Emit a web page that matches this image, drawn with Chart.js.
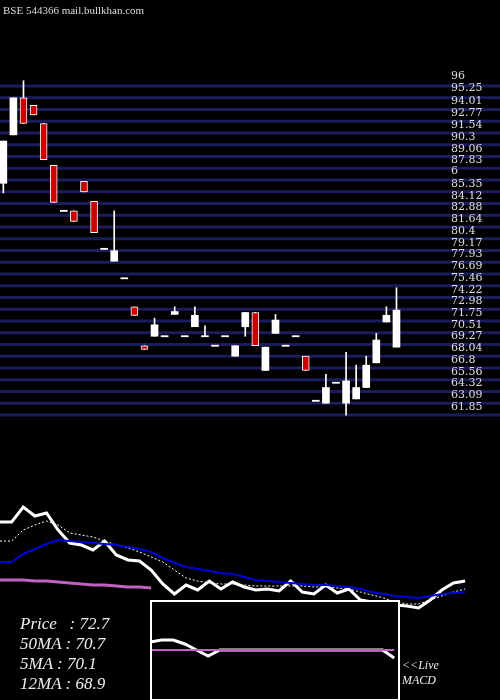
<!DOCTYPE html>
<html><head><script src="https://cdn.jsdelivr.net/npm/chart.js@4"></script>
<style>body{margin:0;background:#000;width:500px;height:700px;overflow:hidden;position:relative;font-family:'DejaVu Serif',serif}
canvas{position:absolute}
.t{position:absolute;color:#eee;font-family:'Liberation Serif',serif;font-style:italic}
</style></head><body>
<canvas id="c1" style="left:0px;top:0px" width="500" height="420"></canvas>
<canvas id="c2" style="left:0px;top:430px" width="500" height="270"></canvas>
<canvas id="c3" style="top:600px;left:150px" width="250" height="100"></canvas>
<div class="t" style="left:3px;top:4px;font-style:normal;font-size:11px;color:#ddd">BSE 544366 mail.bullkhan.com</div>
<div class="t" style="left:20px;top:614px;font-size:17px;line-height:20px">Price &nbsp;&nbsp;: 72.7<br>50MA : 70.7<br>5MA : 70.1<br>12MA : 68.9</div>
<div class="t" style="left:402px;top:658px;font-size:12px;line-height:15px">&lt;&lt;Live<br>MACD</div>
<script>
const opens =[85.0,90.1,94.0,93.2,91.3,86.9,82.1,82.1,85.2,83.1,78.1,76.8,75.0,72.0,67.9,68.9,68.9,71.2,68.9,69.9,68.9,67.9,68.9,66.8,69.9,71.4,65.3,69.2,67.9,68.9,66.8,62.1,61.85,64.0,61.85,62.3,63.5,66.1,70.4,67.75];
const closes=[89.45,94.0,91.3,92.2,87.5,83.0,82.1,81.0,84.1,79.8,78.1,77.9,75.0,71.1,67.5,70.1,68.9,71.5,68.9,71.1,68.9,67.9,68.9,67.9,71.4,67.9,67.75,70.6,67.9,68.9,65.3,62.1,63.5,64.0,64.2,63.5,65.85,68.5,71.1,71.65];
const highs =[89.45,94.0,95.8,93.2,91.3,86.9,82.1,82.1,85.2,83.1,78.1,82.1,75.0,72.0,67.9,70.8,68.9,72.0,68.9,72.0,70.0,67.9,68.9,67.9,71.4,71.4,67.75,71.2,67.9,68.9,66.8,62.1,64.9,64.0,67.2,65.85,66.8,69.2,72.0,74.0];
const lows  =[84.0,90.1,91.3,92.2,87.5,83.0,82.1,81.0,84.1,79.8,78.1,76.8,75.0,71.1,67.5,68.9,68.9,71.2,68.9,69.9,68.9,67.9,68.9,66.8,68.9,67.9,65.3,69.2,67.9,68.9,65.3,62.1,61.85,64.0,60.6,62.3,63.5,66.1,70.4,67.75];
const gridVals=[95.25,94.01,92.77,91.54,90.3,89.06,87.83,86.59,85.35,84.12,82.88,81.64,80.4,79.17,77.93,76.69,75.46,74.22,72.98,71.75,70.51,69.27,68.04,66.8,65.56,64.32,63.09,61.85,60.61];
const tickLabels=["96","95.25","94.01","92.77","91.54","90.3","89.06","87.83","6","85.35","84.12","82.88","81.64","80.4","79.17","77.93","76.69","75.46","74.22","72.98","71.75","70.51","69.27","68.04","66.8","65.56","64.32","63.09","61.85"];
const labelVals=[96.3,95.0,93.6,92.35,91.1,89.9,88.65,87.45,86.25,84.95,83.7,82.45,81.25,80.0,78.75,77.5,76.3,75.05,73.8,72.6,71.35,70.1,68.9,67.65,66.4,65.15,63.95,62.7,61.45];
const priceLine=[522,522,507,516,513,530,543,545,550,541,555,560,561,570,584,594,585,590,581,589,582,587,590,589,591,581,592,594,585,593,589,600,602,604,605,606,608,600,590,583,581];
const ma5=[541,541,530,525,521,525,533,535,537,541,545,548,552,557,562,570,578,581,583,584,584,585,586,586,586,586,586,587,587,588,589,592,595,598,602,604,604,600,596,592,589];
const ma12=[562,562,554,549,544,540,541,542,543,544,545,547,549,552,558,563,567,569,571,573,574,577,580,581,582,583,584,585,585,586,587,589,592,594,596,597,598,596,594,593,592];
const ma50=[580,580,580,581,581,582,583,584,585,585,586,587,587,588];
const macd=[642,640,640,644,650,656,650,650,650,650,650,650,650,650,650,650,650,650,650,650,650,658];
const signal=[650,650,650,650,650,650,650,650,650,650,650,650,650,650,650,650,650,650,650,650,650,650];

const idx=opens.map((_,i)=>i);
const gridPlugin={id:'g',beforeDatasetsDraw(ch){const y=ch.scales.y,c=ch.ctx;c.save();c.strokeStyle='#1c1c5c';c.lineWidth=3;
 gridVals.forEach(v=>{const p=y.getPixelForValue(v);c.beginPath();c.moveTo(0,p);c.lineTo(500,p);c.stroke();});
 c.fillStyle='#ddd';c.font='11px "DejaVu Serif"';c.textBaseline='middle';
 tickLabels.forEach((t,i)=>c.fillText(t,451,y.getPixelForValue(labelVals[i])));c.restore();}};
new Chart(document.getElementById('c1'),{type:'bar',data:{datasets:[
 {data:idx.map(i=>({x:i,y:[lows[i],highs[i]]})),backgroundColor:'#fff',barThickness:1,grouped:false,order:2},
 {data:idx.map(i=>({x:i,y:opens[i]===closes[i]?[opens[i]-0.06,opens[i]+0.06]:[Math.min(opens[i],closes[i]),Math.max(opens[i],closes[i])]})),
  backgroundColor:idx.map(i=>closes[i]<opens[i]?'#cc0000':'#fff'),borderColor:'#fff',borderWidth:idx.map(i=>closes[i]<opens[i]?1:0),borderSkipped:false,barThickness:7,grouped:false,order:1}
]},options:{responsive:false,animation:false,layout:{padding:0},plugins:{legend:{display:false},tooltip:{enabled:false}},
 scales:{x:{type:'linear',offset:false,min:-0.33,max:49.27,display:false},y:{min:60.08,max:104.3,display:false}}},plugins:[gridPlugin]});

const L=(d,c,w,dash)=>({data:d.map((v,i)=>({x:i,y:v})),borderColor:c,borderWidth:w,borderDash:dash||[],pointRadius:0,tension:0,fill:false});
new Chart(document.getElementById('c2'),{type:'line',data:{datasets:[L(ma50,'#c060c0',3),L(ma12,'#0000dd',2),L(ma5,'#fff',1,[2,2]),L(priceLine,'#fff',3)]},
 options:{responsive:false,animation:false,layout:{padding:0},plugins:{legend:{display:false},tooltip:{enabled:false}},
 scales:{x:{type:'linear',min:0,max:43,display:false},y:{min:430,max:700,reverse:true,display:false}}}});

const border={id:'b',afterDraw(ch){const c=ch.ctx;c.save();c.strokeStyle='#fff';c.lineWidth=2;c.strokeRect(1,1,248,99);c.restore();},
 beforeDraw(ch){const c=ch.ctx;c.fillStyle='#000';c.fillRect(0,0,250,100);}};
new Chart(document.getElementById('c3'),{type:'line',data:{datasets:[L(signal,'#c060c0',2),L(macd,'#fff',3)]},
 options:{responsive:false,animation:false,layout:{padding:0},plugins:{legend:{display:false},tooltip:{enabled:false}},
 scales:{x:{type:'linear',min:0,max:21.5,display:false},y:{min:600,max:700,reverse:true,display:false}}},plugins:[border]});
</script></body></html>
